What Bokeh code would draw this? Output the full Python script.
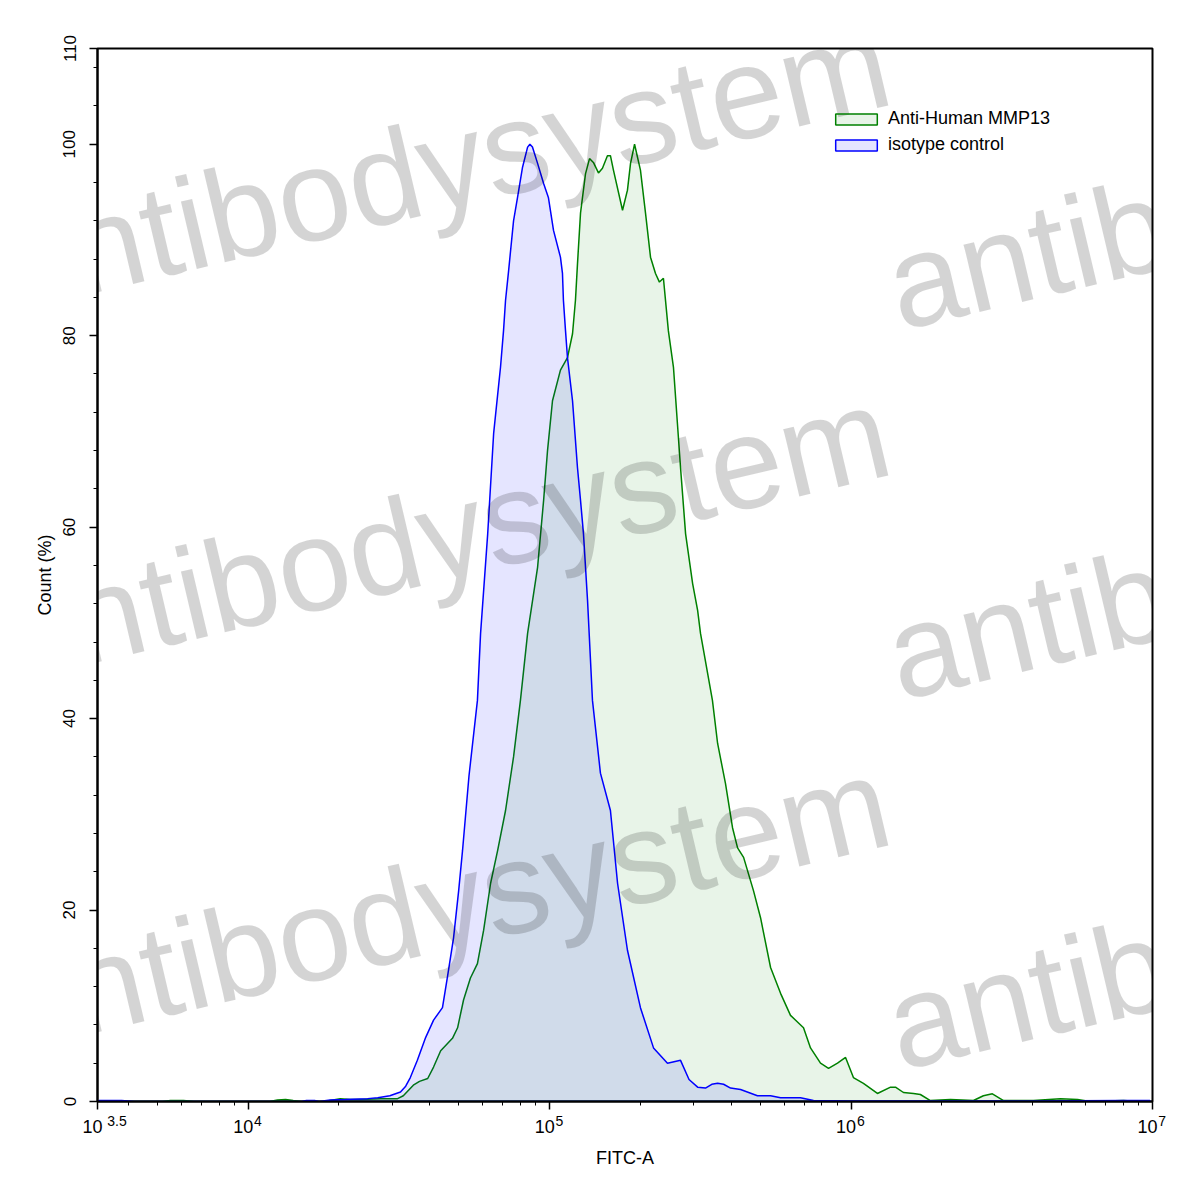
import math
from bokeh.plotting import figure
from bokeh.models import (Range1d, FixedTicker, Label, Legend, LegendItem,
                          CustomJSTickFormatter, LogAxis)
from bokeh.embed import file_html
from bokeh.resources import INLINE

FONT = "Liberation Sans"

# ---------------- data ----------------
# isotype control (blue)
iso_x = [3200, 3800, 4200, 15000, 15600, 16600, 17200, 18700, 21000, 24900,
         26900, 29500, 32000, 33300, 34500, 36400, 38800, 41200, 44100, 45800,
         48000, 49900, 51400, 54000, 57600, 59000, 62300, 65200, 68700, 70300,
         71400, 73100, 75900, 78200, 81300, 84500, 86000, 87700, 91200, 95500,
         99100, 103000, 108600, 110300, 111100, 112900, 114600, 119100, 123700,
         126600, 129500, 133600, 138700, 147400, 159100, 168000, 181200, 200100,
         221100, 246000, 271800, 290000, 309700, 328900, 345000, 360800, 377600,
         398300, 429900, 489100, 540700, 583600, 679600, 750600, 1000000,
         2000000, 4000000, 8000000, 9800000]
iso_y = [0.1, 0.1, 0.0, 0.0, 0.1, 0.1, 0.0, 0.15, 0.2, 0.3,
         0.4, 0.6, 1.0, 1.6, 2.5, 4.3, 6.7, 8.5, 9.8, 13.0,
         17.1, 22.0, 26.2, 34.0, 41.9, 48.9, 59.3, 69.8, 76.7, 80.5,
         83.7, 86.8, 92.0, 94.4, 97.6, 99.7, 100.0, 99.7, 98.0, 95.9,
         94.4, 91.0, 88.2, 86.5, 83.7, 80.5, 77.7, 73.2, 66.2,
         62.8, 59.3, 52.3, 41.9, 34.3, 30.4, 22.8, 15.8, 9.8,
         5.6, 4.0, 4.3, 2.3, 1.5, 1.4, 1.8, 1.9, 1.8,
         1.4, 1.25, 0.6, 0.6, 0.4, 0.4, 0.1, 0.05,
         0.05, 0.05, 0.1, 0.1]

# Anti-Human MMP13 (green)
ab_x = [3200, 5200, 5520, 6100, 6600, 11800, 12500, 13300, 14100, 15000,
        18000, 18700, 20200, 21800, 23600, 27500, 31300, 32700, 35300, 37000,
        39400, 41200, 43500, 47600, 49500, 51800, 54600, 57600, 60400, 63700,
        67200, 71400, 75900, 80000, 84500, 91200, 95500, 98400, 102200, 108600,
        114600, 119100, 121800, 123700, 126600, 131500, 135600, 139700, 145200,
        149700, 155500, 159100, 162800, 174500, 181200, 185500, 191300, 200100,
        208000, 216100, 224500, 231300, 238500, 247700, 257500, 271800, 282500,
        298100, 309700, 316600, 346800, 360800, 383200, 404300, 420200, 440000,
        474700, 500800, 540700, 583600, 629600, 695400, 733500, 791800, 841800,
        901600, 958800, 1018000, 1099000, 1223000, 1352000, 1404000, 1492000,
        1611000, 1698000, 1833000, 2137000, 2547000, 2748000, 2943000, 3204000,
        4030000, 4950000, 5640000, 6200000, 8010000, 9000000]
ab_y = [0.0, 0.0, 0.1, 0.1, 0.0, 0.0, 0.15, 0.2, 0.1, 0.0,
        0.0, 0.1, 0.3, 0.2, 0.2, 0.3, 0.3, 0.6, 1.7, 2.1,
        2.4, 3.6, 5.3, 6.6, 7.7, 10.6, 12.9, 14.4, 17.9, 22.8,
        26.2, 30.4, 36.0, 41.9, 48.9, 55.8, 62.8, 68.0, 73.2, 76.4,
        77.7, 80.2, 83.7, 87.5, 92.8, 96.9, 98.5, 98.1, 97.0,
        97.5, 98.8, 98.8, 97.3, 93.1, 95.2, 98.0, 100.0, 97.3,
        92.8, 88.2, 86.5, 85.6, 86.0, 80.5, 76.7, 66.2, 59.3,
        54.1, 51.3, 48.9, 41.9, 37.4, 33.2, 28.6, 26.5, 25.5,
        22.0, 19.2, 14.0, 11.3, 9.0, 7.7, 5.6, 4.0, 3.45,
        4.0, 4.6, 2.5, 1.9, 0.84, 1.5, 1.5, 0.94,
        0.84, 0.73, 0.1, 0.2, 0.1, 0.6, 0.8, 0.1,
        0.1, 0.3, 0.2, 0.0, 0.1, 0.0]

series_labels = ["Anti-Human MMP13", "isotype control"]
x_major = [10 ** 3.5, 1e4, 1e5, 1e6, 1e7]
x_base = "10"
x_exponents = ["3.5", "4", "5", "6", "7"]
y_major = [0, 20, 40, 60, 80, 100, 110]
x_title = "FITC-A"
y_title = "Count (%)"
watermark = "antibodysystem"

# ---------------- figure ----------------
FW, FH = 1055, 1053
p = figure(x_axis_type="log", x_range=Range1d(10 ** 3.5, 1e7),
           y_range=Range1d(0, 110),
           frame_width=FW, frame_height=FH,
           min_border_left=97, min_border_right=45,
           min_border_top=48, min_border_bottom=92,
           output_backend="svg", toolbar_location=None, tools="")
p.background_fill_color = "white"
p.border_fill_color = "white"
p.outline_line_color = "black"
p.outline_line_width = 2
p.grid.visible = False


def closed(xs, ys):
    return [xs[0]] + list(xs) + [xs[-1]], [0] + list(ys) + [0]


gx, gy = closed(ab_x, ab_y)
bx, by = closed(iso_x, iso_y)
r_ab = p.patch(gx, gy, fill_color="#008000", fill_alpha=0.09,
               line_color="#008000", line_width=1.5)
r_iso = p.patch(bx, by, fill_color="#0000ff", fill_alpha=0.10,
                line_color="#0000ff", line_width=1.5)

# ---------------- axes ----------------
NB = "\u00a0"
JS_LOOKUP = """
const i = tick_values.findIndex((t) => Math.abs(t - tick) <= 1e-6 * t);
return i >= 0 ? tick_labels[i] : '';
"""
x_minor = [m * 10 ** e for e in (3, 4, 5, 6) for m in range(2, 10)
           if 10 ** 3.5 < m * 10 ** e < 1e7]

# main x axis: ticks + raised exponents (padded so they sit right of the "10")
xax = p.below[0]
xax.ticker = FixedTicker(ticks=x_major, minor_ticks=x_minor)
exp_text = [NB * (10 if len(e) > 1 else 5) + e for e in x_exponents]
xax.formatter = CustomJSTickFormatter(
    args=dict(tick_values=x_major, tick_labels=exp_text), code=JS_LOOKUP)

# second x axis on the same scale: the "10" bases and the axis title
base_text = [x_base + NB * 2 for _ in x_exponents]
xax2 = LogAxis(ticker=FixedTicker(ticks=x_major, minor_ticks=[]),
               formatter=CustomJSTickFormatter(
                   args=dict(tick_values=x_major, tick_labels=base_text),
                   code=JS_LOOKUP))
p.add_layout(xax2, "below")

y_minor = [v for v in range(4, 110, 4) if v % 20 != 0]
yax = p.left[0]
yax.ticker = FixedTicker(ticks=y_major, minor_ticks=y_minor)

for ax in (xax, yax):
    ax.axis_line_width = 2
    ax.axis_line_color = "black"
    ax.major_tick_line_color = "black"
    ax.major_tick_line_width = 1.5
    ax.major_tick_out = 8
    ax.major_tick_in = 0
    ax.minor_tick_line_color = "black"
    ax.minor_tick_line_width = 1
    ax.minor_tick_out = 4
    ax.minor_tick_in = 0

for ax in (xax, xax2, yax):
    ax.major_label_text_font = FONT
    ax.major_label_text_color = "black"
    ax.axis_label_text_font = FONT
    ax.axis_label_text_font_style = "normal"
    ax.axis_label_text_font_size = "18px"
    ax.axis_label_text_color = "black"

xax.major_label_text_font_size = "14px"
xax.major_label_standoff = 3

xax2.axis_line_color = None
xax2.major_tick_line_color = None
xax2.minor_tick_line_color = None
xax2.major_tick_out = 0
xax2.major_tick_in = 0
xax2.minor_tick_out = 0
xax2.minor_tick_in = 0
xax2.major_label_text_font_size = "18px"
xax2.major_label_standoff = -15
xax2.axis_label = x_title
xax2.axis_label_standoff = 8

yax.major_label_orientation = "vertical"
yax.major_label_text_font_size = "17px"
yax.major_label_standoff = 14
yax.axis_label = y_title
yax.axis_label_standoff = 6

# legend
legend = Legend(items=[LegendItem(label=series_labels[0], renderers=[r_ab]),
                       LegendItem(label=series_labels[1], renderers=[r_iso])],
                location=(733, 946), glyph_width=52, glyph_height=14,
                label_standoff=6, spacing=5, padding=0, margin=0,
                label_height=20,
                border_line_color=None, background_fill_alpha=0,
                label_text_font=FONT, label_text_font_size="18px",
                label_text_color="black")
p.add_layout(legend)

# watermark (drawn over the plot area, as in the source image)
for wx, wy0 in ((-97, 833), (792, 815)):
    for k in range(4):
        p.add_layout(Label(x=wx, y=wy0 - 370 * k, x_units="screen",
                           y_units="screen", text=watermark, angle=0.232,
                           text_align="left", text_baseline="alphabetic",
                           text_font=FONT, text_font_size="131px",
                           text_color="black", text_alpha=0.17))

open("out.html", "w").write(file_html(p, INLINE))
